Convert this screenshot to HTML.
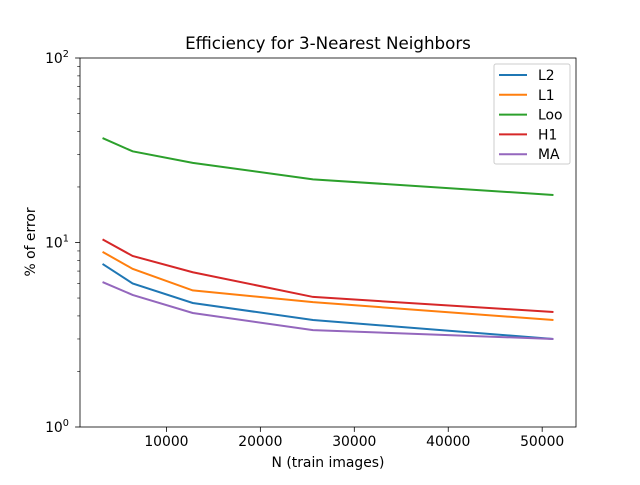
<!DOCTYPE html>
<html><head><meta charset="utf-8"><style>
body{margin:0;background:#fff}
svg text{font-family:"DejaVu Sans","Liberation Sans",sans-serif;fill:#000}
</style></head><body>
<svg id="chart" width="640" height="480" xmlns="http://www.w3.org/2000/svg">
<rect width="640" height="480" fill="#fff"/>
<text x="328" y="49" font-size="16.7" text-anchor="middle">Efficiency for 3-Nearest Neighbors</text>
<g id="plot"></g>
<text x="328" y="467" font-size="13.9" text-anchor="middle">N (train images)</text>
<text transform="translate(35,242) rotate(-90)" font-size="13.9" text-anchor="middle">% of error</text>
</svg>
<script>
const xs=[3200,6400,12800,25600,51200];
const seriesNames=["L2","L1","Loo","H1","MA"];
const L2=[7.65,6.0,4.7,3.8,3.0];
const L1=[8.9,7.2,5.5,4.75,3.8];
const Loo=[36.8,31.2,27,22,18.1];
const H1=[10.4,8.45,6.9,5.07,4.2];
const MA=[6.1,5.2,4.15,3.35,3.0];
const colors=["#1f77b4","#ff7f0e","#2ca02c","#d62728","#9467bd"];
const xTicks=[10000,20000,30000,40000,50000];
const yTicks=[1,10,100];
const yTickLabels=["10","10","10"];
const X0=80,X1=576,Y0=58,Y1=427,xmin=800,xmax=53600;
const sx=v=>X0+(v-xmin)/(xmax-xmin)*(X1-X0);
const sy=v=>Y1-(Math.log10(v)-0)/2*(Y1-Y0);
const NS="http://www.w3.org/2000/svg";
const g=document.getElementById('plot');
function mk(t,a,p){const e=document.createElementNS(NS,t);for(const k in a)e.setAttribute(k,a[k]);(p||g).appendChild(e);return e;}
xTicks.forEach(v=>{const x=sx(v);
const l=mk('line',{x1:x,x2:x,y1:Y1,y2:Y1+4.9,stroke:'#000','stroke-width':0.8});


const t=mk('text',{x:x,y:Y1+19,'font-size':13.9,'text-anchor':'middle'});t.textContent=v;

});
for(let d=1;d<100;d*=10){for(let m=2;m<=9;m++){const y=sy(d*m);
const l=mk('line',{x1:X0-2.8,x2:X0,y1:y,y2:y,stroke:'#000','stroke-width':0.6});

}}
yTicks.forEach((v,i)=>{const y=sy(v);
const l=mk('line',{x1:X0-4.9,x2:X0,y1:y,y2:y,stroke:'#000','stroke-width':0.8});


const t=mk('text',{x:X0-23,y:y+5,'font-size':13.9,'text-anchor':'middle'});
t.textContent=yTickLabels[i];
const s=mk('tspan',{dy:-6,'font-size':9.7},t);s.textContent=String(Math.round(Math.log10(v)));

});
[L2,L1,Loo,H1,MA].forEach((arr,i)=>{
const p=mk('polyline',{points:arr.map((v,j)=>sx(xs[j])+','+sy(v)).join(' '),fill:'none',stroke:colors[i],'stroke-width':2});

});
const fr=mk('rect',{x:X0,y:Y0,width:X1-X0,height:Y1-Y0,fill:'none',stroke:'#000','stroke-width':0.8});


const lg=mk('g',{});


mk('rect',{x:494,y:64,width:76,height:100,rx:2,fill:'#fff',stroke:'#ccc','stroke-width':1},lg);
seriesNames.forEach((n,i)=>{const y=75+i*19.8;
const e=mk('g',{},lg);


mk('line',{x1:499,x2:527,y1:y,y2:y,stroke:colors[i],'stroke-width':2},e);
const t=mk('text',{x:538,y:y+5,'font-size':13.9},e);t.textContent=n;});
</script>
</body></html>
